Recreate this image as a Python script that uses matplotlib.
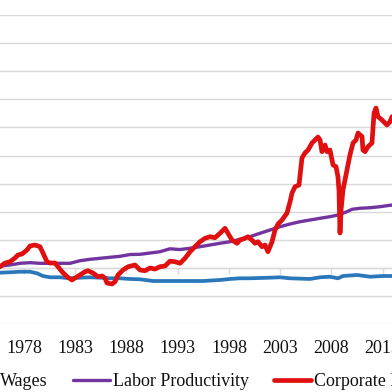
import numpy as np
import matplotlib
matplotlib.use("Agg")
import matplotlib.pyplot as plt

# ---- data (index values) ----
profit_years = [1975.66, 1976.15, 1976.63, 1977.12, 1977.41, 1977.80, 1978.29, 1978.59, 1979.07,
                1979.56, 1979.85, 1980.24, 1980.54, 1981.02, 1981.32, 1981.71, 1982.20, 1982.68,
                1982.98, 1983.46, 1983.95, 1984.24, 1984.73, 1985.22, 1985.61, 1985.90, 1986.10,
                1986.59, 1986.88, 1987.17, 1987.66, 1988.15, 1988.83, 1989.32, 1989.80, 1990.29,
                1990.78, 1991.27, 1991.76, 1992.24, 1992.73, 1993.22, 1993.71, 1994.20, 1994.68,
                1995.17, 1995.66, 1996.15, 1996.63, 1997.12, 1997.61, 1997.90, 1998.29, 1998.78,
                1999.07, 1999.56, 1999.85, 2000.24, 2000.54, 2000.83, 2001.22, 2001.51, 2001.80,
                2002.20, 2002.49, 2002.78, 2003.17, 2003.66, 2003.95, 2004.15, 2004.44, 2004.83,
                2005.12, 2005.41, 2005.71, 2006.10, 2006.39, 2006.68, 2006.88, 2007.07, 2007.37,
                2007.56, 2007.85, 2008.15, 2008.44, 2008.63, 2008.73, 2008.83, 2008.93, 2009.12,
                2009.51, 2009.80, 2010.10, 2010.39, 2010.59, 2010.98, 2011.07, 2011.27, 2011.56,
                2011.95, 2012.15, 2012.34, 2012.54, 2012.93, 2013.41, 2013.71, 2013.90, 2014.3]
profit_vals = [102.1, 108.7, 111.0, 117.6, 123.0, 124.7, 131.9, 139.0, 140.8,
               137.7, 126.5, 111.0, 108.7, 108.7, 102.1, 93.2, 84.3, 78.5,
               82.0, 87.4, 93.2, 95.0, 90.9, 84.3, 85.6, 82.0, 73.1,
               71.4, 75.4, 87.4, 96.3, 102.1, 105.2, 96.3, 95.0, 99.8,
               98.0, 102.1, 103.4, 112.0, 111.0, 108.2, 117.1, 128.8, 137.7,
               146.6, 152.7, 155.5, 153.7, 161.6, 170.5, 161.6, 149.6, 143.8,
               149.6, 152.7, 155.5, 149.6, 143.8, 146.6, 137.7, 140.8, 128.8,
               146.6, 167.4, 178.0, 185.2, 197.7, 217.3, 233.3, 244.5, 247.5,
               295.6, 304.5, 309.8, 322.3, 327.6, 332.9, 327.6, 306.8, 318.7,
               306.8, 309.8, 283.1, 280.1, 262.3, 238.6, 162.1, 203.0, 238.6,
               274.2, 300.9, 322.3, 327.6, 340.0, 333.5, 309.8, 306.8, 315.7,
               322.3, 375.6, 384.5, 369.0, 363.2, 354.3, 360.2, 369.0, 372.0]

prod_years = [1975.66, 1976.63, 1977.61, 1978.59, 1979.56, 1980.54, 1981.51, 1982.49, 1983.46,
              1984.44, 1985.41, 1986.39, 1987.37, 1988.34, 1989.32, 1991.27, 1992.24, 1993.22,
              1994.20, 1995.17, 1996.15, 1997.12, 1998.10, 1999.07, 2000.05, 2001.02, 2002.00,
              2002.98, 2003.95, 2004.93, 2005.90, 2006.88, 2007.85, 2008.63, 2009.51, 2010.00,
              2010.78, 2011.76, 2012.73, 2013.90, 2014.3]
prod_vals = [103.4, 105.2, 108.2, 109.3, 108.2, 108.2, 108.2, 108.2, 112.8,
             115.3, 117.1, 118.9, 120.6, 123.8, 124.2, 128.8, 134.0, 132.7,
             134.9, 137.7, 140.8, 143.8, 146.6, 150.9, 155.5, 161.6, 167.4,
             173.3, 178.1, 182.2, 185.2, 188.3, 191.1, 194.1, 200.0, 204.3,
             206.1, 207.1, 208.9, 211.9, 212.5]

wage_years = [1975.66, 1976.63, 1977.61, 1978.59, 1979.27, 1979.85, 1980.54, 1981.51, 1982.49,
              1983.46, 1984.44, 1985.41, 1986.39, 1987.37, 1988.34, 1989.32, 1990.59, 1992.24,
              1993.90, 1995.46, 1997.12, 1998.10, 1999.07, 2000.05, 2002.00, 2002.98, 2003.95,
              2005.90, 2006.88, 2007.85, 2008.63, 2009.12, 2010.49, 2011.76, 2013.02, 2013.90, 2014.3]
wage_vals = [91.5, 92.2, 93.2, 93.2, 90.4, 85.6, 83.3, 83.3, 81.5,
             82.6, 83.3, 82.6, 81.5, 81.5, 80.3, 79.7, 76.7, 76.7,
             76.7, 76.7, 78.5, 80.3, 81.5, 81.5, 82.6, 83.3, 81.5,
             80.3, 83.3, 84.3, 81.5, 85.6, 87.4, 84.3, 85.6, 85.6, 85.6]

tick_years = [1978, 1983, 1988, 1993, 1998, 2003, 2008, 2013]
tick_labels = [str(y) for y in tick_years]
series_names = ["Wages", "Labor Productivity", "Corporate Profits"]

# ---- figure ----
plt.rcParams['font.family'] = ['Liberation Serif', 'DejaVu Serif']
fig = plt.figure(figsize=(3.92, 3.92), dpi=100)
ax = fig.add_axes([-0.06952, 0.1732, 1.12436, 0.78852])

grid_c = '#D9D9D9'
ax.plot(wage_years, wage_vals, color='#2A77BA', lw=2.7, label=series_names[0], solid_capstyle='round', zorder=3)
ax.plot(prod_years, prod_vals, color='#7235A0', lw=2.4, label=series_names[1], solid_capstyle='round', zorder=4)
ax.plot(profit_years, profit_vals, color='#E01010', lw=3.4, label=series_names[2], solid_capstyle='round', zorder=5)

ax.set_xlim(1973, 2016)
ax.set_ylim(0, 550)
ax.set_yticks(np.arange(0, 551, 50))
ax.grid(axis='y', color=grid_c, lw=1.0, zorder=0)
ax.tick_params(axis='y', length=0, labelleft=False)
for s in ['left', 'right', 'top']:
    ax.spines[s].set_visible(False)
ax.spines['bottom'].set_position(('data', 100))
ax.spines['bottom'].set_color(grid_c)
ax.spines['bottom'].set_linewidth(1.0)
ax.set_xticks(tick_years)
ax.tick_params(axis='x', direction='out', length=4.5, width=1.0, color=grid_c, labelbottom=False)

sec = ax.secondary_xaxis(0)
sec.set_xticks(tick_years, tick_labels)
sec.tick_params(length=0, pad=11.5, labelsize=13, labelcolor='#111111')
for s in sec.spines.values():
    s.set_visible(False)

leg = ax.legend(loc='center', bbox_to_anchor=(0.508, 0.027), bbox_transform=fig.transFigure,
                ncol=3, frameon=False, fontsize=13, handlelength=2.05, handletextpad=0.17,
                columnspacing=1.38)
for t in leg.get_texts():
    t.set_color('#111111')

fig.savefig('out.png', dpi=100)
